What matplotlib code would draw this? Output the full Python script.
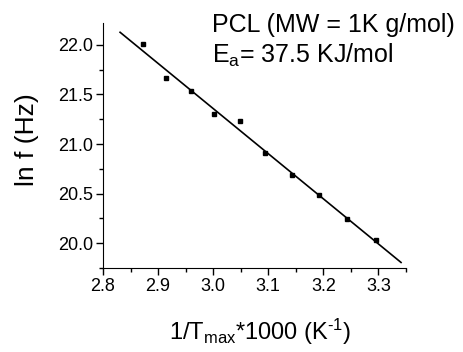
import numpy as np
import matplotlib
matplotlib.use("Agg")
import matplotlib.pyplot as plt
from matplotlib.ticker import MultipleLocator

plt.rcParams['font.family'] = ['Liberation Sans', 'DejaVu Sans']
plt.rcParams['mathtext.fontset'] = 'custom'
plt.rcParams['mathtext.rm'] = 'Liberation Sans'
plt.rcParams['mathtext.it'] = 'Liberation Sans'

inv_T = [2.873, 2.915, 2.959, 3.002, 3.048, 3.094, 3.143, 3.192, 3.243, 3.295]
ln_f = [22.01, 21.67, 21.53, 21.30, 21.23, 20.91, 20.69, 20.49, 20.24, 20.03]
fit_x = [2.831, 3.341]

fig = plt.figure(figsize=(4.64, 3.52), dpi=100)
ax = fig.add_axes([0.222, 0.2386, 0.653, 0.696])

b, a = np.polyfit(inv_T, ln_f, 1)
fx = np.array(fit_x)
ax.plot(fx, a + b * fx, color='black', lw=1.2)
ax.plot(inv_T, ln_f, 's', color='black', ms=3.5)

ax.set_xlim(2.8, 3.35)
ax.set_ylim(19.75, 22.22)
ax.xaxis.set_major_locator(MultipleLocator(0.1))
ax.xaxis.set_minor_locator(MultipleLocator(0.05))
ax.yaxis.set_major_locator(MultipleLocator(0.5))
ax.yaxis.set_minor_locator(MultipleLocator(0.25))
ax.xaxis.set_major_formatter(plt.FormatStrFormatter('%.1f'))
ax.yaxis.set_major_formatter(plt.FormatStrFormatter('%.1f'))
for s in ['top', 'right']:
    ax.spines[s].set_visible(False)
ax.tick_params(which='major', direction='out', length=5, width=1, labelsize=13, pad=2)
ax.tick_params(which='minor', direction='out', length=3, width=1)

ax.set_ylabel('ln f (Hz)', fontsize=19)
ax.yaxis.set_label_coords(-0.212, 0.525)
ax.set_xlabel(r'1/T$_{\rm max}$*1000 (K$^{\text{-1}}$)', fontsize=17)
ax.xaxis.set_label_coords(0.52, -0.2)

fig.text(0.457, 0.910, 'PCL (MW = 1K g/mol)', fontsize=18, va='baseline', ha='left')
fig.text(0.457, 0.821, r'E$_{\rm a}$= 37.5 KJ/mol', fontsize=18, va='baseline', ha='left')

fig.savefig('out.png', dpi=100)
